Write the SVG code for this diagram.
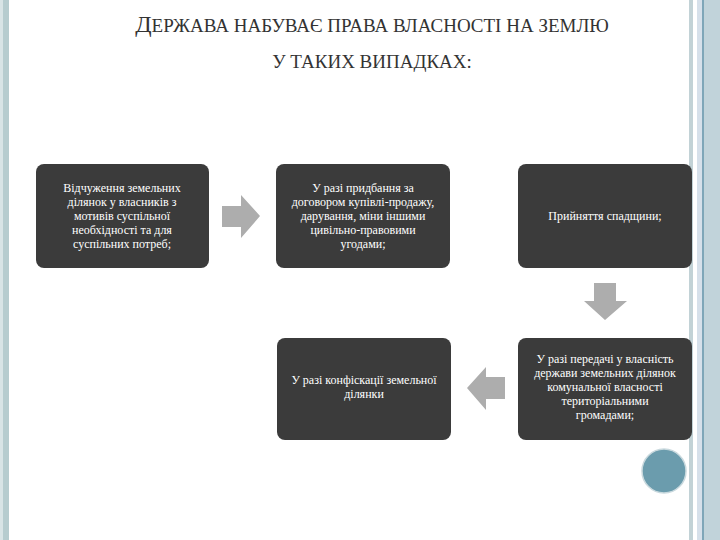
<svg xmlns="http://www.w3.org/2000/svg" width="720" height="540" viewBox="0 0 720 540">
<style>
.box{fill:#3b3b3b}
.t{font-family:"Liberation Serif",serif;font-size:12px;fill:#fff;text-anchor:middle}
.arr{fill:#adadad}
</style>
<rect width="720" height="540" fill="#fff"/>
<rect x="0" y="0" width="3" height="540" fill="#d8e4e6"/>
<rect x="3" y="0" width="6" height="540" fill="#b6cccf"/>
<rect x="689" y="0" width="4" height="540" fill="#c2d2d6"/>
<rect x="697" y="0" width="5" height="540" fill="#d6e0ea"/>
<rect x="702" y="0" width="2" height="540" fill="#7fa6b8"/>
<rect x="704" y="0" width="16" height="540" fill="#c1d3da"/>
<g font-family="Liberation Serif,serif" fill="#333" text-anchor="middle">
<text x="372" y="32" font-size="19"><tspan font-size="24">Д</tspan>ЕРЖАВА НАБУВАЄ ПРАВА ВЛАСНОСТІ НА ЗЕМЛЮ</text>
<text x="372" y="68" font-size="19">У ТАКИХ ВИПАДКАХ:</text>
</g>
<g id="n1"><rect class="box" x="36" y="164" width="173" height="104" rx="8"/>
<text class="t" x="122" y="192">Відчуження земельних<tspan x="122" dy="14">ділянок у власників з</tspan><tspan x="122" dy="14">мотивів суспільної</tspan><tspan x="122" dy="14">необхідності та для</tspan><tspan x="122" dy="14">суспільних потреб;</tspan></text></g>
<g id="n2"><rect class="box" x="276" y="164" width="174" height="104" rx="8"/>
<text class="t" x="363" y="192">У разі придбання за<tspan x="363" dy="14">договором купівлі-продажу,</tspan><tspan x="363" dy="14">дарування, міни іншими</tspan><tspan x="363" dy="14">цивільно-правовими</tspan><tspan x="363" dy="14">угодами;</tspan></text></g>
<g id="n3"><rect class="box" x="518" y="164" width="174" height="104" rx="8"/>
<text class="t" x="605" y="220">Прийняття спадщини;</text></g>
<g id="n4"><rect class="box" x="277" y="338" width="174" height="102" rx="8"/>
<text class="t" x="364" y="384">У разі конфіскації земельної<tspan x="364" dy="14">ділянки</tspan></text></g>
<g id="n5"><rect class="box" x="518" y="338" width="174" height="102" rx="8"/>
<text class="t" x="605" y="363">У разі передачі у власність<tspan x="605" dy="14">держави земельних ділянок</tspan><tspan x="605" dy="14">комунальної власності</tspan><tspan x="605" dy="14">територіальними</tspan><tspan x="605" dy="14">громадами;</tspan></text></g>
<g id="connectors">
<polygon class="arr" points="222,206 241,206 241,195 260,216 241,238 241,227 222,227"/>
<polygon class="arr" points="594,283 616,283 616,301 627,301 605,320 584,301 594,301"/>
<polygon class="arr" points="505,377 486,377 486,367 467,388 486,410 486,399 505,399"/>
</g>
<circle cx="664" cy="471" r="22" fill="#6b9cad" stroke="#c9d9de" stroke-width="1.5"/>
</svg>
